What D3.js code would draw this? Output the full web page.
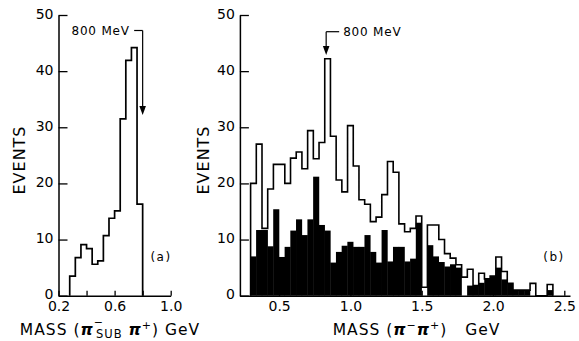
<!DOCTYPE html>
<html>
<head>
<meta charset="utf-8">
<script src="https://cdn.jsdelivr.net/npm/d3@7"></script>
<style>
  html, body { margin: 0; padding: 0; background: #fff; }
  svg text { font-family: "DejaVu Sans", sans-serif; fill: #000; }
</style>
</head>
<body>
<svg id="chart" width="579" height="341"></svg>
<script>
// (a) pi-(sub) pi+ mass spectrum, 40 MeV bins (lower bin edges, GeV)
const binEdgesA = [0.28, 0.32, 0.36, 0.40, 0.44, 0.48, 0.52, 0.56, 0.60, 0.64, 0.68, 0.72, 0.76];
const eventsA   = [3.5, 6.8, 9.1, 8.4, 5.6, 6.2, 10.7, 13.8, 15.1, 31.5, 41.9, 44.2, 16.3];

// (b) pi- pi+ mass spectrum, 40 MeV bins (lower bin edges, GeV)
const binEdgesB = [0.30, 0.34, 0.38, 0.42, 0.46, 0.50, 0.54, 0.58, 0.62, 0.66,
                   0.70, 0.74, 0.78, 0.82, 0.86, 0.90, 0.94, 0.98, 1.02, 1.06,
                   1.10, 1.14, 1.18, 1.22, 1.26, 1.30, 1.34, 1.38, 1.42, 1.46,
                   1.50, 1.54, 1.58, 1.62, 1.66, 1.70, 1.74, 1.78, 1.82, 1.86,
                   1.90, 1.94, 1.98, 2.02, 2.06, 2.10, 2.14, 2.18, 2.22, 2.26,
                   2.30, 2.34, 2.38];
// all events (open histogram)
const eventsAllB = [20, 27, 12, 19, 23.4, 23.4, 20, 24.5, 25.6, 22.6,
                    29.4, 24.4, 27.3, 42.2, 28.4, 20.6, 18.5, 30.3, 23.1, 17.1,
                    16.3, 13.2, 14, 18, 23.9, 22, 12.8, 11.4, 12, 14.2,
                    1.5, 12.6, 12.6, 10, 7.5, 6.7, 5.5, 3.3, 4.7, 1.8,
                    4, 3, 3.5, 6.9, 4.3, 2.2, 1, 1, 1, 2.2,
                    0, 0, 2];
// selected events (filled histogram)
const eventsSelB = [7, 11.7, 11.7, 8.8, 15.4, 6.9, 8.7, 11.6, 13.6, 10.8,
                    13.6, 21.2, 12.6, 11.6, 5.9, 7.8, 8.9, 9.6, 8.7, 8.7,
                    10.8, 7.8, 5.9, 11.7, 6.1, 8.7, 8.7, 6.1, 6.6, 13,
                    0, 9, 7, 6, 5.2, 5.6, 5, 0, 1.8, 1.8,
                    2.3, 3, 3.5, 5, 2.9, 2.2, 1, 1, 1, 0,
                    0, 0, 1];

const binWidth = 0.04;
const yTicks = [0, 10, 20, 30, 40, 50];
const xTicksA = [0.2, 0.4, 0.6, 0.8, 1.0];
const xLabelsA = [0.2, 0.6, 1.0];
const xTicksB = [0.5, 1.0, 1.5, 2.0, 2.5];
const peakMarkA = 0.80;   // 800 MeV arrow, panel a
const peakMarkB = 0.83;   // 800 MeV arrow, panel b

const svg = d3.select("#chart");

const y = d3.scaleLinear().domain([0, 50]).range([295.7, 15]);
const xA = d3.scaleLinear().domain([0.2, 1.0]).range([58.5, 170.7]);
const xB = d3.scaleLinear().domain([0.225, 2.54]).range([239.9, 570.0]);

// step outline through a histogram
function outlinePath(x, edges, values) {
  const pts = [[edges[0], 0]];
  edges.forEach((e, i) => pts.push([e, values[i]]));
  pts.push([edges[edges.length - 1] + binWidth, 0]);
  return d3.line().x(d => x(d[0])).y(d => y(d[1])).curve(d3.curveStepAfter)(pts);
}

function styleAxis(g) {
  g.selectAll(".domain").attr("stroke", "#000").attr("stroke-width", 1.5);
  g.selectAll(".tick line").attr("stroke", "#000").attr("stroke-width", 1.3);
  g.selectAll(".tick text")
    .attr("font-family", "DejaVu Sans, sans-serif")
    .attr("font-size", 14)
    .attr("fill", "#000");
}
function yLabelShift(g) {
  g.selectAll(".tick text").attr("dy", "0.22em");
}

// ---------- panel (a) ----------
const gA = svg.append("g");
gA.append("path")
  .attr("d", outlinePath(xA, binEdgesA, eventsA))
  .attr("fill", "none").attr("stroke", "#000").attr("stroke-width", 1.7)
  .attr("stroke-linejoin", "miter");

gA.append("g").attr("transform", `translate(${xA(0.2)},0)`)
  .call(d3.axisLeft(y).tickValues(yTicks).tickSizeInner(-9).tickSizeOuter(0).tickPadding(5))
  .call(styleAxis).call(yLabelShift);
gA.append("g").attr("transform", `translate(0,${y(0)})`)
  .call(d3.axisBottom(xA).tickValues(xTicksA).tickSizeInner(-5).tickSizeOuter(0).tickPadding(5.5)
    .tickFormat(d => xLabelsA.some(v => Math.abs(v - d) < 1e-9) ? d3.format(".1f")(d) : ""))
  .call(styleAxis);

// ---------- panel (b) ----------
const gB = svg.append("g");
gB.selectAll("rect.sel")
  .data(binEdgesB.map((e, i) => ({ e, v: eventsSelB[i] })).filter(d => d.v > 0))
  .join("rect").attr("class", "sel")
  .attr("x", d => xB(d.e) - 0.2)
  .attr("width", d => xB(d.e + binWidth) - xB(d.e) + 0.4)
  .attr("y", d => y(d.v))
  .attr("height", d => y(0) - y(d.v))
  .attr("fill", "#000");

gB.append("path")
  .attr("d", outlinePath(xB, binEdgesB, eventsAllB))
  .attr("fill", "none").attr("stroke", "#000").attr("stroke-width", 1.6);

gB.append("g").attr("transform", `translate(${xB(0.225)},0)`)
  .call(d3.axisLeft(y).tickValues(yTicks).tickSizeInner(-9).tickSizeOuter(0).tickPadding(5))
  .call(styleAxis).call(yLabelShift);
gB.append("g").attr("transform", `translate(0,${y(0)})`)
  .call(d3.axisBottom(xB).tickValues(xTicksB).tickSizeInner(-5).tickSizeOuter(0).tickPadding(5.5)
    .tickFormat(d3.format(".1f")))
  .call(styleAxis);

// ---------- axis titles ----------
[[19, 160], [203, 160]].forEach(([cx, cy]) => {
  svg.append("text")
    .attr("transform", `translate(${cx},${cy}) rotate(-90)`)
    .attr("text-anchor", "middle").attr("dy", "0.36em")
    .attr("font-size", 16).attr("letter-spacing", 1)
    .text("EVENTS");
});

const tA = svg.append("text").attr("x", 110).attr("y", 335)
  .attr("text-anchor", "middle").attr("font-size", 15.5).attr("letter-spacing", 1);
tA.append("tspan").text("MASS (");
tA.append("tspan").attr("font-style", "italic").attr("font-weight", "bold").text("π");
tA.append("tspan").attr("font-size", 11).attr("dy", -9.5).text("−");
tA.append("tspan").attr("font-size", 11.5).attr("dx", -8).attr("dy", 12).text("SUB");
tA.append("tspan").attr("dy", -2.5).text(" ");
tA.append("tspan").attr("font-style", "italic").attr("font-weight", "bold").text("π");
tA.append("tspan").attr("font-size", 11).attr("dy", -6).text("+");
tA.append("tspan").attr("dy", 6).text(") GeV");

const tB = svg.append("text").attr("x", 416.5).attr("y", 335)
  .attr("text-anchor", "middle").attr("font-size", 15.5).attr("letter-spacing", 1);
tB.append("tspan").text("MASS (");
tB.append("tspan").attr("font-style", "italic").attr("font-weight", "bold").text("π");
tB.append("tspan").attr("font-size", 11).attr("dy", -6).text("−");
tB.append("tspan").attr("dy", 6).attr("font-style", "italic").attr("font-weight", "bold").text("π");
tB.append("tspan").attr("font-size", 11).attr("dy", -6).text("+");
tB.append("tspan").attr("dy", 6).text(")\u00A0\u00A0 GeV");

// ---------- panel labels ----------
svg.append("text").attr("x", 161).attr("y", 261).attr("text-anchor", "middle")
  .attr("font-size", 12).attr("letter-spacing", 1.5).text("(a)");
svg.append("text").attr("x", 554).attr("y", 261).attr("text-anchor", "middle")
  .attr("font-size", 12).attr("letter-spacing", 1.5).text("(b)");

// ---------- 800 MeV markers ----------
function arrow(xPos, yTop, yTip) {
  svg.append("line").attr("x1", xPos).attr("x2", xPos).attr("y1", yTop).attr("y2", yTip - 6)
    .attr("stroke", "#000").attr("stroke-width", 1.2);
  svg.append("path")
    .attr("d", `M${xPos - 3.3},${yTip - 9} L${xPos + 3.3},${yTip - 9} L${xPos},${yTip} Z`)
    .attr("fill", "#000");
}
// panel (a): label to the left, arrow at the right
const axA = xA(peakMarkA);
svg.append("text").attr("x", 71.5).attr("y", 34.5).attr("font-size", 12)
  .attr("letter-spacing", 0.8).text("800 MeV");
svg.append("line").attr("x1", axA - 8.5).attr("x2", axA).attr("y1", 30.5).attr("y2", 30.5)
  .attr("stroke", "#000").attr("stroke-width", 1.2);
arrow(axA, 30.5, 115);

// panel (b): arrow at the left, label to the right
const axB = xB(peakMarkB);
svg.append("line").attr("x1", axB).attr("x2", axB + 13).attr("y1", 31.7).attr("y2", 31.7)
  .attr("stroke", "#000").attr("stroke-width", 1.2);
svg.append("text").attr("x", axB + 17).attr("y", 35.5).attr("font-size", 12)
  .attr("letter-spacing", 0.8).text("800 MeV");
arrow(axB, 31.7, 55);
</script>
</body>
</html>
